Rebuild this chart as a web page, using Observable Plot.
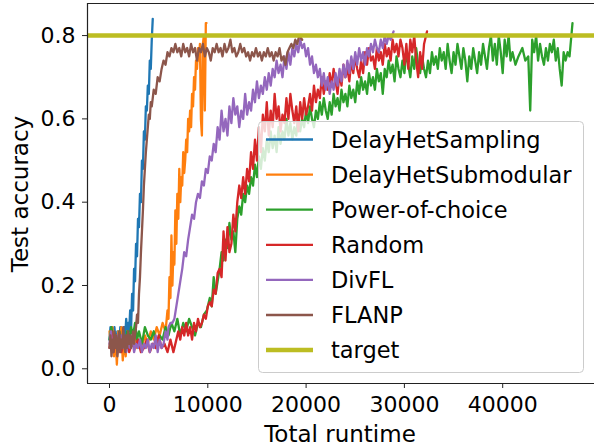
<!DOCTYPE html>
<html>
<head>
<meta charset="utf-8">
<script src="https://cdn.jsdelivr.net/npm/d3@7"></script>
<script src="https://cdn.jsdelivr.net/npm/@observablehq/plot@0.6"></script>
<style>
  html, body { margin: 0; padding: 0; background: #fff; }
  #chart { width: 594px; height: 448px; }
</style>
</head>
<body>
<div id="chart"></div>
<script>
// ---------- data (runtime, test accuracy) ----------
const seriesNames = ["DelayHetSampling", "DelayHetSubmodular", "Power-of-choice", "Random", "DivFL", "FLANP"];
const seriesColors = ["#1f77b4", "#ff7f0e", "#2ca02c", "#d62728", "#9467bd", "#8c564b"];
const targetName = "target";
const targetColor = "#bcbd22";
const targetAccuracy = 0.8;
const xTicks = [0, 10000, 20000, 30000, 40000];
const yTicks = [0.0, 0.2, 0.4, 0.6, 0.8];

const samplingPts = [[0,0.07],[100,0.10],[200,0.08],[300,0.06],[400,0.09],[500,0.10],[600,0.07],[700,0.05],[800,0.09],[900,0.08],[1000,0.06],[1100,0.10],[1200,0.07],[1300,0.09],[1400,0.06],[1500,0.10],[1600,0.08],[1700,0.12],[1800,0.07],[1900,0.11],[2000,0.09],[2100,0.14],[2200,0.10],[2300,0.18],[2400,0.14],[2500,0.24],[2600,0.21],[2700,0.30],[2800,0.27],[2900,0.36],[3000,0.34],[3100,0.42],[3200,0.40],[3300,0.50],[3400,0.48],[3500,0.57],[3600,0.55],[3700,0.63],[3800,0.62],[3900,0.68],[4000,0.66],[4100,0.74],[4200,0.72],[4300,0.79],[4400,0.84]];

const submodularPts = [[0,0.09],[150,0.05],[300,0.10],[450,0.03],[600,0.08],[750,0.01],[900,0.09],[1050,0.04],[1200,0.10],[1350,0.02],[1500,0.07],[1650,0.03],[1800,0.09],[2000,0.05],[2200,0.08],[2400,0.06],[2600,0.09],[2800,0.05],[3000,0.07],[3300,0.05],[3600,0.08],[3900,0.06],[4200,0.09],[4500,0.07],[4800,0.10],[5100,0.08],[5400,0.11],[5700,0.09],[5900,0.14],[6000,0.12],[6100,0.22],[6200,0.17],[6300,0.32],[6400,0.20],[6500,0.28],[6600,0.25],[6700,0.38],[6800,0.30],[6900,0.42],[7000,0.36],[7100,0.48],[7200,0.40],[7300,0.46],[7400,0.44],[7500,0.52],[7600,0.47],[7700,0.50],[7800,0.55],[7900,0.52],[8000,0.60],[8100,0.57],[8200,0.62],[8300,0.58],[8400,0.66],[8500,0.63],[8600,0.70],[8700,0.67],[8800,0.74],[8900,0.72],[9000,0.77],[9100,0.74],[9200,0.78],[9300,0.60],[9400,0.56],[9500,0.78],[9600,0.80],[9700,0.62],[9800,0.83],[9870,0.83]];

const powerPts = [[0,0.07],[200,0.10],[400,0.06],[600,0.08],[800,0.05],[1000,0.09],[1200,0.06],[1400,0.08],[1600,0.05],[1800,0.09],[2000,0.07],[2200,0.10],[2400,0.08],[2600,0.11],[2800,0.07],[3000,0.09],[3300,0.06],[3600,0.10],[3900,0.08],[4200,0.07],[4500,0.09],[4800,0.06],[5100,0.08],[5400,0.07],[5700,0.10],[6000,0.08],[6300,0.11],[6600,0.09],[6900,0.12],[7200,0.08],[7500,0.11],[7800,0.09],[8100,0.12],[8400,0.10],[8700,0.08],[9000,0.11],[9300,0.10],[9600,0.13],[9900,0.14],[10200,0.17],[10400,0.15],[10600,0.22],[10800,0.18],[11000,0.21],[11200,0.24],[11400,0.28],[11600,0.26],[11800,0.31],[12000,0.29],[12200,0.35],[12400,0.31],[12600,0.33],[12800,0.28],[13000,0.36],[13200,0.39],[13400,0.37],[13600,0.42],[13800,0.40],[14000,0.44],[14200,0.42],[14400,0.46],[14600,0.44],[14800,0.49],[15000,0.46],[15200,0.51],[15400,0.48],[15600,0.53],[15800,0.50],[16000,0.55],[16200,0.52],[16400,0.57],[16600,0.53],[16800,0.56],[17000,0.52],[17200,0.58],[17400,0.54],[17600,0.57],[17800,0.55],[18000,0.60],[18200,0.56],[18400,0.59],[18600,0.55],[18800,0.58],[19000,0.56],[19200,0.61],[19400,0.57],[19600,0.60],[19800,0.58],[20000,0.62],[20200,0.59],[20400,0.63],[20600,0.60],[20800,0.58],[21000,0.62],[21200,0.60],[21400,0.64],[21600,0.61],[21800,0.65],[22000,0.62],[22200,0.60],[22400,0.64],[22600,0.61],[22800,0.66],[23000,0.63],[23200,0.65],[23400,0.62],[23600,0.67],[23800,0.64],[24000,0.66],[24200,0.63],[24400,0.68],[24600,0.65],[24800,0.67],[25000,0.64],[25200,0.69],[25400,0.66],[25600,0.70],[25800,0.67],[26000,0.69],[26200,0.66],[26400,0.71],[26600,0.68],[26800,0.70],[27000,0.67],[27200,0.72],[27400,0.69],[27600,0.71],[27800,0.66],[28000,0.72],[28200,0.70],[28400,0.74],[28600,0.71],[28800,0.73],[29000,0.69],[29200,0.75],[29400,0.72],[29600,0.70],[29800,0.74],[30000,0.71],[30200,0.76],[30400,0.73],[30600,0.70],[30800,0.75],[31000,0.72],[31200,0.77],[31400,0.73],[31600,0.71],[31800,0.75],[32000,0.72],[32200,0.70],[32400,0.74],[32600,0.71],[32800,0.76],[33000,0.73],[33200,0.75],[33400,0.72],[33600,0.77],[33800,0.74],[34000,0.76],[34200,0.72],[34400,0.78],[34600,0.74],[34800,0.71],[35000,0.76],[35200,0.73],[35400,0.78],[35600,0.75],[35800,0.72],[36000,0.77],[36200,0.74],[36400,0.69],[36600,0.75],[36800,0.72],[37000,0.77],[37200,0.74],[37400,0.71],[37600,0.76],[37800,0.73],[38000,0.78],[38200,0.75],[38400,0.72],[38600,0.77],[38800,0.80],[39000,0.74],[39200,0.78],[39400,0.73],[39600,0.80],[39800,0.76],[40000,0.71],[40200,0.79],[40400,0.75],[40600,0.80],[40800,0.74],[41000,0.76],[41300,0.73],[41600,0.75],[42000,0.77],[42300,0.74],[42600,0.75],[42800,0.62],[43000,0.79],[43200,0.76],[43400,0.80],[43600,0.74],[43800,0.78],[44000,0.75],[44200,0.73],[44400,0.77],[44600,0.74],[44800,0.78],[45000,0.76],[45200,0.79],[45400,0.74],[45600,0.77],[45800,0.72],[46000,0.68],[46200,0.76],[46400,0.74],[46600,0.76],[46800,0.75],[47100,0.83]];

const randomPts = [[0,0.05],[200,0.09],[400,0.04],[600,0.07],[800,0.05],[1000,0.08],[1200,0.04],[1400,0.06],[1600,0.05],[1800,0.08],[2000,0.04],[2300,0.06],[2600,0.05],[2900,0.07],[3200,0.04],[3500,0.05],[3800,0.07],[4100,0.04],[4400,0.06],[4700,0.05],[5000,0.08],[5300,0.05],[5600,0.06],[5900,0.04],[6200,0.07],[6500,0.04],[6800,0.07],[7000,0.09],[7200,0.07],[7400,0.10],[7600,0.08],[7800,0.11],[8000,0.08],[8200,0.10],[8400,0.07],[8600,0.11],[8800,0.09],[9000,0.12],[9200,0.10],[9400,0.11],[9600,0.13],[9800,0.12],[10000,0.15],[10200,0.16],[10400,0.15],[10600,0.19],[10800,0.18],[11000,0.23],[11200,0.24],[11400,0.22],[11600,0.33],[11800,0.26],[12000,0.34],[12200,0.28],[12400,0.30],[12600,0.37],[12800,0.33],[13000,0.40],[13200,0.44],[13400,0.41],[13600,0.46],[13800,0.42],[14000,0.48],[14200,0.45],[14400,0.52],[14600,0.48],[14800,0.55],[15000,0.50],[15200,0.58],[15400,0.52],[15600,0.61],[15800,0.57],[16000,0.64],[16200,0.56],[16400,0.62],[16600,0.58],[16800,0.66],[17000,0.60],[17200,0.63],[17400,0.57],[17600,0.61],[17800,0.59],[18000,0.65],[18200,0.60],[18400,0.66],[18600,0.62],[18800,0.59],[19000,0.63],[19200,0.57],[19400,0.64],[19600,0.60],[19800,0.65],[20000,0.61],[20200,0.63],[20400,0.66],[20600,0.62],[20800,0.68],[21000,0.64],[21200,0.67],[21400,0.65],[21600,0.70],[21800,0.66],[22000,0.69],[22200,0.67],[22400,0.71],[22600,0.68],[22800,0.72],[23000,0.69],[23200,0.66],[23400,0.71],[23600,0.68],[23800,0.73],[24000,0.70],[24200,0.72],[24400,0.69],[24600,0.74],[24800,0.71],[25000,0.75],[25200,0.72],[25400,0.70],[25600,0.74],[25800,0.71],[26000,0.76],[26200,0.73],[26400,0.77],[26600,0.74],[26800,0.75],[27000,0.72],[27200,0.77],[27400,0.74],[27600,0.76],[27800,0.73],[28000,0.78],[28200,0.75],[28400,0.77],[28600,0.74],[28800,0.79],[29000,0.76],[29200,0.78],[29400,0.75],[29600,0.79],[29800,0.77],[30000,0.73],[30200,0.78],[30400,0.72],[30600,0.79],[30800,0.76],[31000,0.80],[31200,0.74],[31400,0.70],[31600,0.76],[31800,0.72],[32000,0.78],[32300,0.81]];

const divflPts = [[0,0.06],[150,0.09],[300,0.04],[450,0.07],[600,0.05],[750,0.08],[900,0.04],[1050,0.06],[1200,0.08],[1350,0.05],[1500,0.07],[1700,0.04],[1900,0.06],[2100,0.05],[2300,0.08],[2500,0.04],[2700,0.06],[2900,0.05],[3100,0.07],[3300,0.04],[3500,0.06],[3700,0.05],[3900,0.07],[4100,0.04],[4300,0.06],[4500,0.05],[4700,0.08],[4900,0.04],[5100,0.07],[5300,0.05],[5500,0.06],[5700,0.09],[5900,0.07],[6000,0.10],[6200,0.11],[6400,0.11],[6600,0.12],[6800,0.15],[7000,0.18],[7200,0.21],[7400,0.24],[7600,0.28],[7800,0.27],[8000,0.31],[8200,0.34],[8400,0.37],[8600,0.36],[8800,0.40],[9000,0.42],[9200,0.41],[9400,0.45],[9600,0.44],[9800,0.48],[10000,0.47],[10200,0.51],[10400,0.50],[10600,0.54],[10800,0.52],[11000,0.58],[11200,0.55],[11400,0.62],[11600,0.57],[11800,0.60],[12000,0.56],[12200,0.63],[12400,0.59],[12600,0.65],[12800,0.61],[13000,0.63],[13200,0.58],[13400,0.62],[13600,0.60],[13800,0.66],[14000,0.61],[14200,0.64],[14400,0.62],[14600,0.67],[14800,0.64],[15000,0.69],[15200,0.65],[15400,0.68],[15600,0.66],[15800,0.70],[16000,0.67],[16200,0.71],[16400,0.68],[16600,0.72],[16800,0.70],[17000,0.74],[17200,0.71],[17400,0.73],[17600,0.70],[17800,0.75],[18000,0.72],[18200,0.76],[18400,0.73],[18600,0.77],[18800,0.75],[19000,0.78],[19200,0.76],[19400,0.79],[19600,0.77],[19800,0.78],[20000,0.75],[20200,0.77],[20400,0.73],[20600,0.75],[20800,0.71],[21000,0.73],[21200,0.70],[21400,0.72],[21600,0.68],[21800,0.71],[22000,0.67],[22200,0.70],[22400,0.66],[22600,0.69],[22800,0.67],[23000,0.71],[23200,0.68],[23400,0.72],[23600,0.69],[23800,0.73],[24000,0.70],[24200,0.74],[24400,0.71],[24600,0.75],[24800,0.72],[25000,0.76],[25200,0.73],[25400,0.77],[25600,0.74],[25800,0.76],[26000,0.73],[26200,0.77],[26400,0.75],[26600,0.78],[26800,0.76],[27000,0.79],[27200,0.77],[27400,0.76],[27600,0.79],[27800,0.77],[28000,0.80],[28200,0.78],[28400,0.80],[28600,0.79],[28900,0.81]];

const flanpPts = [[0,0.05],[100,0.08],[200,0.03],[300,0.07],[400,0.04],[500,0.09],[600,0.05],[700,0.08],[800,0.03],[900,0.06],[1000,0.09],[1100,0.04],[1200,0.07],[1300,0.05],[1400,0.10],[1500,0.06],[1600,0.04],[1700,0.08],[1800,0.05],[1900,0.09],[2000,0.06],[2100,0.08],[2200,0.05],[2300,0.07],[2400,0.09],[2500,0.06],[2600,0.08],[2700,0.10],[2800,0.13],[2900,0.11],[3000,0.18],[3100,0.22],[3200,0.28],[3300,0.33],[3400,0.38],[3500,0.44],[3600,0.48],[3700,0.52],[3800,0.55],[3900,0.58],[4000,0.61],[4100,0.60],[4200,0.64],[4300,0.63],[4500,0.67],[4700,0.66],[4900,0.70],[5100,0.69],[5300,0.72],[5500,0.74],[5700,0.73],[5900,0.76],[6100,0.75],[6300,0.77],[6500,0.76],[6700,0.78],[6900,0.76],[7100,0.77],[7300,0.75],[7500,0.78],[7700,0.76],[7900,0.77],[8100,0.75],[8300,0.78],[8500,0.76],[8700,0.77],[8900,0.74],[9100,0.77],[9300,0.76],[9500,0.78],[9700,0.75],[9900,0.77],[10100,0.76],[10300,0.74],[10500,0.77],[10700,0.76],[10900,0.78],[11100,0.76],[11300,0.77],[11500,0.75],[11700,0.78],[11900,0.76],[12100,0.77],[12300,0.79],[12500,0.76],[12700,0.77],[12900,0.75],[13100,0.76],[13300,0.78],[13500,0.76],[13700,0.77],[13900,0.75],[14100,0.76],[14300,0.74],[14500,0.76],[14700,0.75],[14900,0.77],[15100,0.75],[15300,0.76],[15500,0.74],[15700,0.76],[15900,0.75],[16100,0.77],[16300,0.75],[16500,0.76],[16700,0.74],[16900,0.76],[17100,0.75],[17300,0.77],[17500,0.74],[17700,0.75],[17900,0.73],[18100,0.76],[18300,0.77],[18500,0.78],[18700,0.77],[18900,0.79],[19100,0.78],[19300,0.80],[19600,0.79]];

const seriesPoints = [samplingPts, submodularPts, powerPts, randomPts, divflPts, flanpPts];

// ---------- build table ----------
const rows = [];
seriesPoints.forEach((pts, i) => {
  pts.forEach(([t, a]) => rows.push({method: seriesNames[i], runtime: t, accuracy: a}));
});

const xDomain = [-2238, 49339];
const yDomain = [-0.0353, 0.877];
const font = "DejaVu Sans, sans-serif";

const chart = Plot.plot({
  width: 594,
  height: 448,
  marginLeft: 87,
  marginRight: 0,
  marginTop: 3,
  marginBottom: 65,
  style: {fontFamily: font, fontSize: "22px", color: "black", background: "white"},
  x: {domain: xDomain},
  y: {domain: yDomain},
  color: {domain: seriesNames, range: seriesColors},
  marks: [
    Plot.line(rows, {x: "runtime", y: "accuracy", z: "method", stroke: "method", strokeWidth: 2.3, strokeLinejoin: "round"}),
    Plot.ruleY([targetAccuracy], {stroke: targetColor, strokeWidth: 4.5}),
    Plot.ruleY([yDomain[0]], {stroke: "#222", strokeWidth: 1.2}),
    Plot.ruleY([yDomain[1]], {stroke: "#222", strokeWidth: 1.2}),
    Plot.ruleX([xDomain[0]], {stroke: "#222", strokeWidth: 1.2}),
    Plot.axisX({ticks: xTicks, tickFormat: d => String(d), tickSize: 5, tickPadding: 8, label: null, stroke: "#222", fontSize: 22}),
    Plot.axisY({ticks: yTicks, tickFormat: d => d.toFixed(1), tickSize: 5, tickPadding: 7, label: null, stroke: "#222", fontSize: 22})
  ]
});

document.getElementById("chart").appendChild(chart);

// ---------- axis titles and legend ----------
const svg = d3.select(chart);
svg.append("text")
  .attr("x", 340).attr("y", 441.5)
  .attr("text-anchor", "middle")
  .attr("font-family", font).attr("font-size", 23).attr("fill", "black")
  .text("Total runtime");
svg.append("text")
  .attr("transform", "translate(28,194) rotate(-90)")
  .attr("text-anchor", "middle")
  .attr("font-family", font).attr("font-size", 23).attr("fill", "black")
  .text("Test accuracy");

const legend = svg.append("g").attr("text-anchor", "start");
legend.append("rect")
  .attr("x", 258.5).attr("y", 121.5).attr("width", 325).attr("height", 251)
  .attr("rx", 4)
  .attr("fill", "rgba(255,255,255,0.8)")
  .attr("stroke", "#cccccc").attr("stroke-width", 1);
const legendItems = seriesNames.map((n, i) => ({name: n, color: seriesColors[i], w: 2.3}))
  .concat([{name: targetName, color: targetColor, w: 4.5}]);
legendItems.forEach((it, i) => {
  const cy = 139.5 + i * 35.1;
  legend.append("line")
    .attr("x1", 266).attr("x2", 313).attr("y1", cy).attr("y2", cy)
    .attr("stroke", it.color).attr("stroke-width", it.w);
  legend.append("text")
    .attr("x", 331).attr("y", cy).attr("dy", "0.36em")
    .attr("text-anchor", "start")
    .attr("font-family", font).attr("font-size", 22.5).attr("fill", "black")
    .text(it.name);
});
</script>
</body>
</html>
